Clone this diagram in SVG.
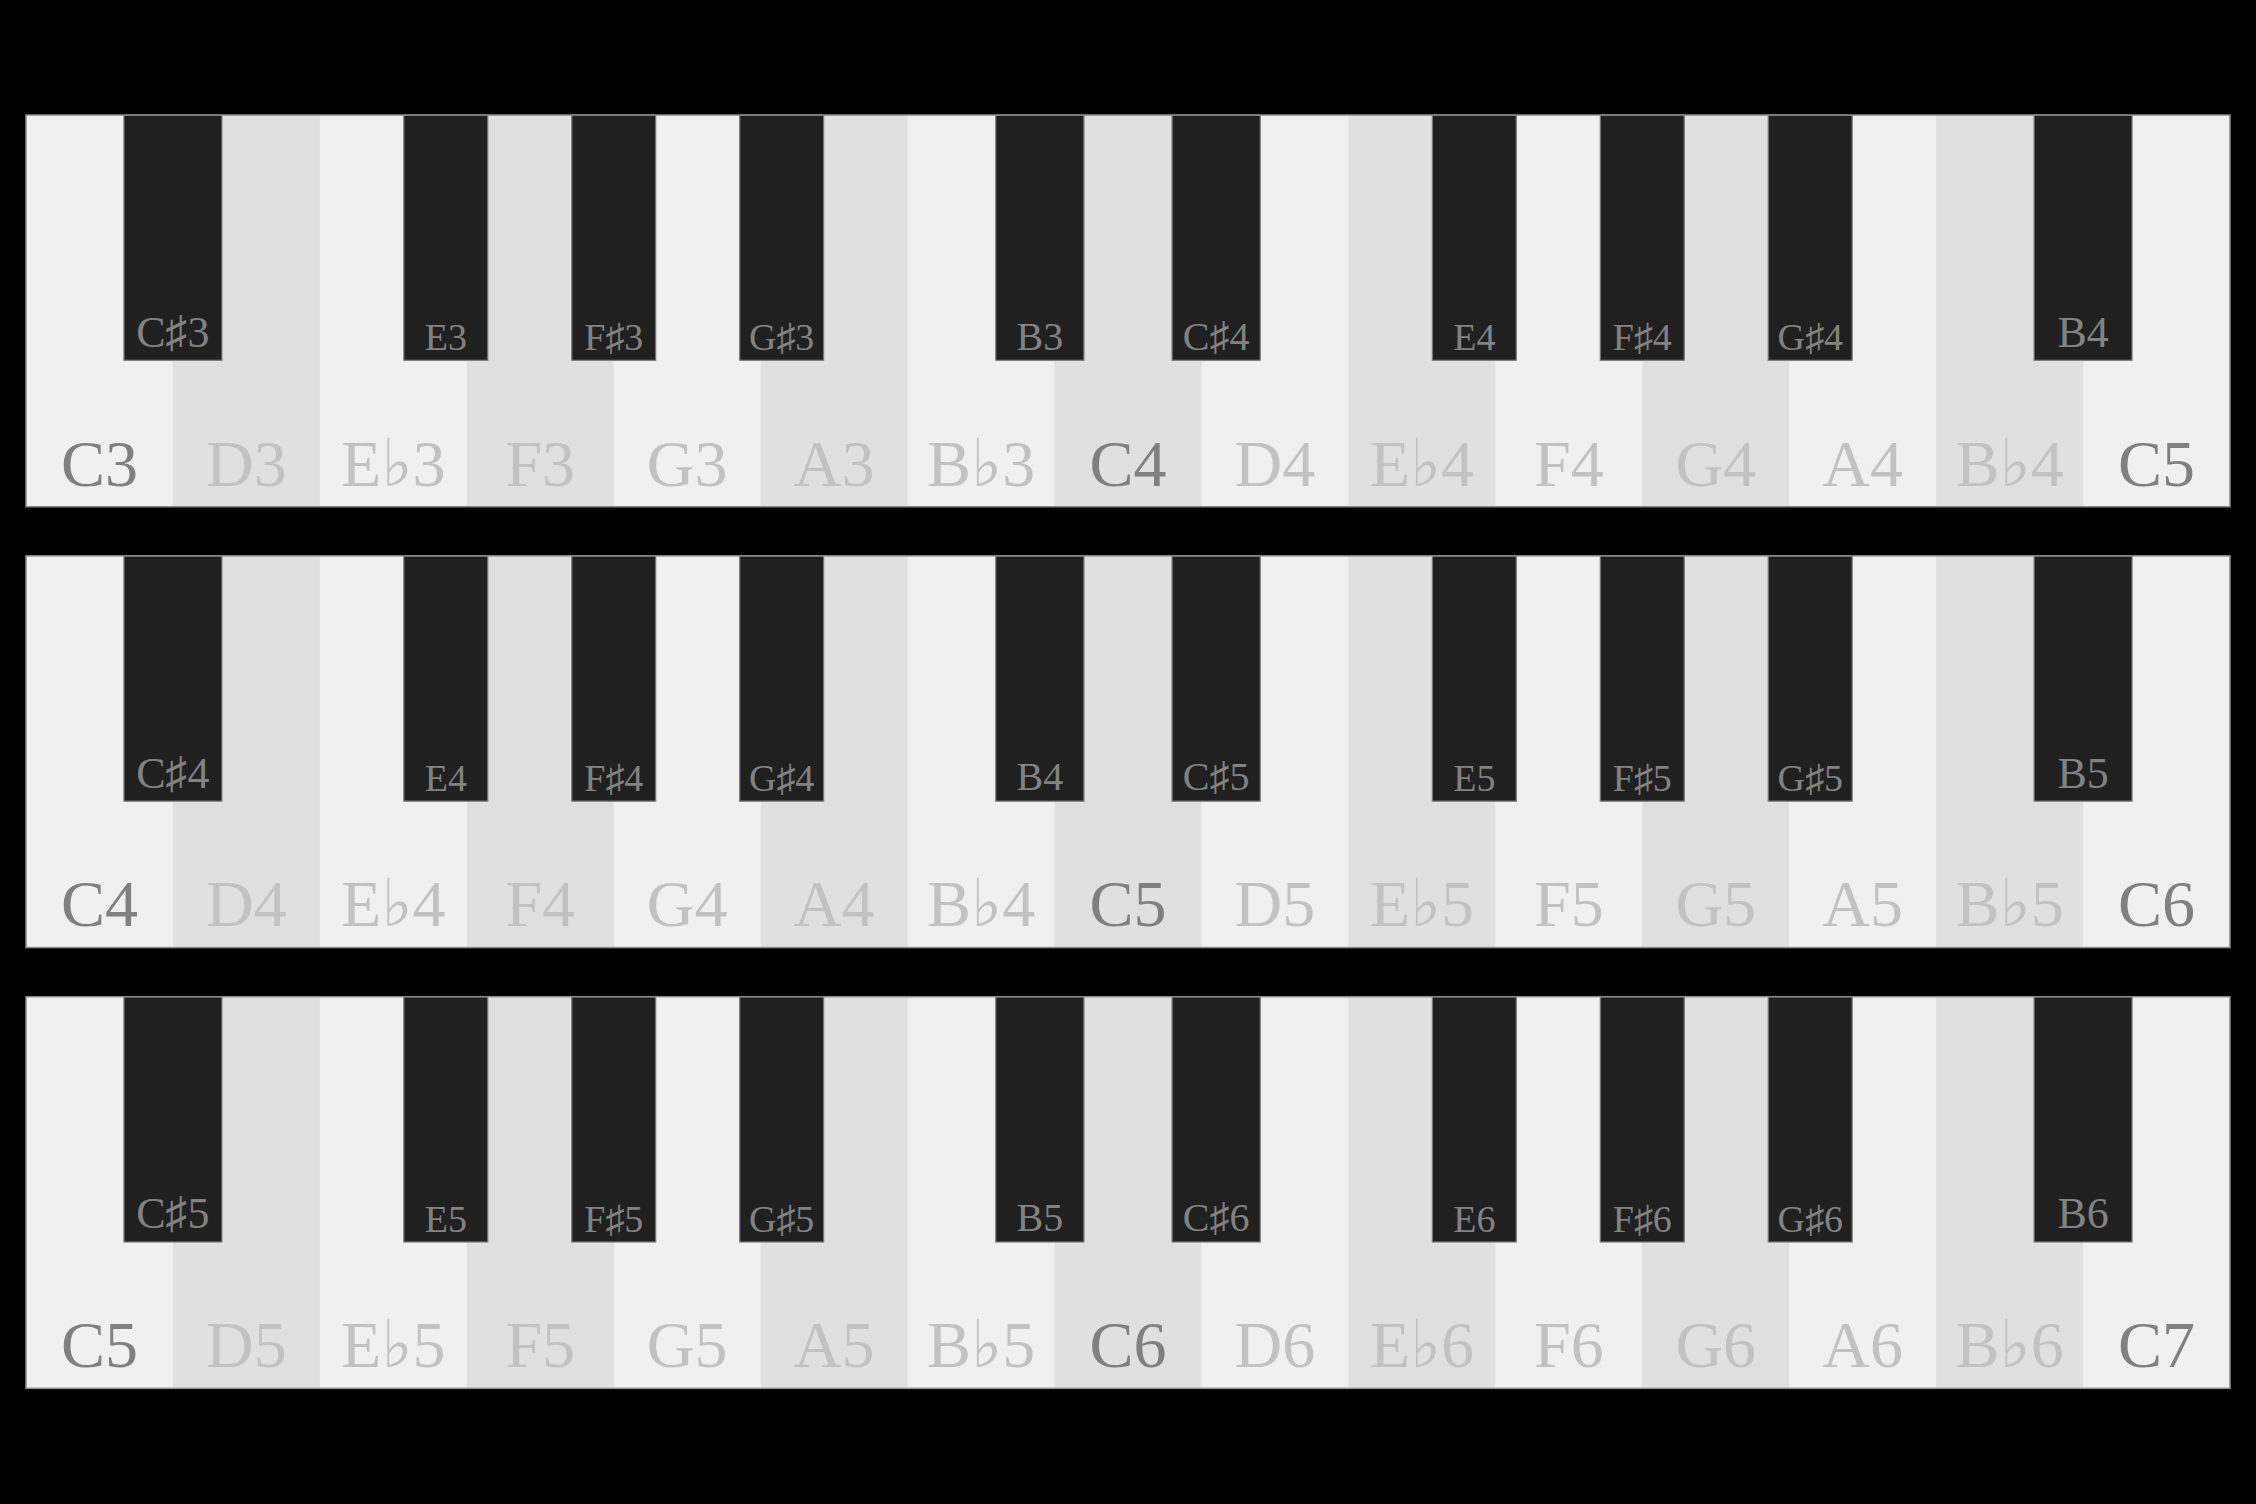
<svg xmlns="http://www.w3.org/2000/svg" xmlns:xlink="http://www.w3.org/1999/xlink" width="2256" height="1504" viewBox="0 0 2256 1504">
<style>
.lt{fill:#f0f0f0}
.dk{fill:#e0e0e0}
.bk{fill:#202020;stroke:#7a7a7a;stroke-width:1.2}
.frame{fill:none;stroke:#8a8a8a;stroke-width:1.5}
text{font-family:"Liberation Serif","DejaVu Serif",serif;text-anchor:middle}
.wl{font-size:66px;fill:#c2c2c2}
.wc{font-size:66px;fill:#808080}
.bl{fill:#828282}
.s1{font-size:38px}
.s2{font-size:40px}
.s3{font-size:44px}
</style>
<defs>
<g id="keyboard">
<rect class="lt" x="26" y="0" width="2204" height="391.7"/>
<rect class="dk" x="172.93" y="0" width="146.93" height="391.7"/>
<rect class="dk" x="466.8" y="0" width="146.93" height="391.7"/>
<rect class="dk" x="760.67" y="0" width="146.93" height="391.7"/>
<rect class="dk" x="1054.53" y="0" width="146.93" height="391.7"/>
<rect class="dk" x="1348.4" y="0" width="146.93" height="391.7"/>
<rect class="dk" x="1642.27" y="0" width="146.93" height="391.7"/>
<rect class="dk" x="1936.13" y="0" width="146.93" height="391.7"/>
<rect class="bk" x="123.96" y="0" width="97.96" height="245.3"/>
<rect class="bk" x="403.83" y="0" width="83.96" height="245.3"/>
<rect class="bk" x="571.75" y="0" width="83.96" height="245.3"/>
<rect class="bk" x="739.68" y="0" width="83.96" height="245.3"/>
<rect class="bk" x="995.76" y="0" width="88.16" height="245.3"/>
<rect class="bk" x="1172.08" y="0" width="88.16" height="245.3"/>
<rect class="bk" x="1432.36" y="0" width="83.96" height="245.3"/>
<rect class="bk" x="1600.29" y="0" width="83.96" height="245.3"/>
<rect class="bk" x="1768.21" y="0" width="83.96" height="245.3"/>
<rect class="bk" x="2034.09" y="0" width="97.96" height="245.3"/>
<rect class="frame" x="26" y="0" width="2204" height="391.7"/>
</g>
</defs>
<rect x="0" y="0" width="2256" height="1504" fill="#000"/>

<g id="keyboard-1" transform="translate(0,115)">
<use xlink:href="#keyboard" href="#keyboard"/>
<g id="labels-1-white">
<text class="wc" x="99.47" y="370.5">C3</text>
<text class="wl" x="246.4" y="370.5">D3</text>
<text class="wl" x="393.33" y="370.5">E♭3</text>
<text class="wl" x="540.27" y="370.5">F3</text>
<text class="wl" x="687.2" y="370.5">G3</text>
<text class="wl" x="834.13" y="370.5">A3</text>
<text class="wl" x="981.07" y="370.5">B♭3</text>
<text class="wc" x="1128" y="370.5">C4</text>
<text class="wl" x="1274.93" y="370.5">D4</text>
<text class="wl" x="1421.87" y="370.5">E♭4</text>
<text class="wl" x="1568.8" y="370.5">F4</text>
<text class="wl" x="1715.73" y="370.5">G4</text>
<text class="wl" x="1862.67" y="370.5">A4</text>
<text class="wl" x="2009.6" y="370.5">B♭4</text>
<text class="wc" x="2156.53" y="370.5">C5</text>
</g>
<g id="labels-1-black">
<text class="bl s3" x="172.93" y="231.7">C♯3</text>
<text class="bl s1" x="445.81" y="235">E3</text>
<text class="bl s1" x="613.73" y="235">F♯3</text>
<text class="bl s1" x="781.66" y="235">G♯3</text>
<text class="bl s2" x="1039.84" y="234.5">B3</text>
<text class="bl s2" x="1216.16" y="234.5">C♯4</text>
<text class="bl s1" x="1474.34" y="235">E4</text>
<text class="bl s1" x="1642.27" y="235">F♯4</text>
<text class="bl s1" x="1810.19" y="235">G♯4</text>
<text class="bl s3" x="2083.07" y="231.7">B4</text>
</g>
</g>

<g id="keyboard-2" transform="translate(0,555.85)">
<use xlink:href="#keyboard" href="#keyboard"/>
<g id="labels-2-white">
<text class="wc" x="99.47" y="370.5">C4</text>
<text class="wl" x="246.4" y="370.5">D4</text>
<text class="wl" x="393.33" y="370.5">E♭4</text>
<text class="wl" x="540.27" y="370.5">F4</text>
<text class="wl" x="687.2" y="370.5">G4</text>
<text class="wl" x="834.13" y="370.5">A4</text>
<text class="wl" x="981.07" y="370.5">B♭4</text>
<text class="wc" x="1128" y="370.5">C5</text>
<text class="wl" x="1274.93" y="370.5">D5</text>
<text class="wl" x="1421.87" y="370.5">E♭5</text>
<text class="wl" x="1568.8" y="370.5">F5</text>
<text class="wl" x="1715.73" y="370.5">G5</text>
<text class="wl" x="1862.67" y="370.5">A5</text>
<text class="wl" x="2009.6" y="370.5">B♭5</text>
<text class="wc" x="2156.53" y="370.5">C6</text>
</g>
<g id="labels-2-black">
<text class="bl s3" x="172.93" y="231.7">C♯4</text>
<text class="bl s1" x="445.81" y="235">E4</text>
<text class="bl s1" x="613.73" y="235">F♯4</text>
<text class="bl s1" x="781.66" y="235">G♯4</text>
<text class="bl s2" x="1039.84" y="234.5">B4</text>
<text class="bl s2" x="1216.16" y="234.5">C♯5</text>
<text class="bl s1" x="1474.34" y="235">E5</text>
<text class="bl s1" x="1642.27" y="235">F♯5</text>
<text class="bl s1" x="1810.19" y="235">G♯5</text>
<text class="bl s3" x="2083.07" y="231.7">B5</text>
</g>
</g>

<g id="keyboard-3" transform="translate(0,996.7)">
<use xlink:href="#keyboard" href="#keyboard"/>
<g id="labels-3-white">
<text class="wc" x="99.47" y="370.5">C5</text>
<text class="wl" x="246.4" y="370.5">D5</text>
<text class="wl" x="393.33" y="370.5">E♭5</text>
<text class="wl" x="540.27" y="370.5">F5</text>
<text class="wl" x="687.2" y="370.5">G5</text>
<text class="wl" x="834.13" y="370.5">A5</text>
<text class="wl" x="981.07" y="370.5">B♭5</text>
<text class="wc" x="1128" y="370.5">C6</text>
<text class="wl" x="1274.93" y="370.5">D6</text>
<text class="wl" x="1421.87" y="370.5">E♭6</text>
<text class="wl" x="1568.8" y="370.5">F6</text>
<text class="wl" x="1715.73" y="370.5">G6</text>
<text class="wl" x="1862.67" y="370.5">A6</text>
<text class="wl" x="2009.6" y="370.5">B♭6</text>
<text class="wc" x="2156.53" y="370.5">C7</text>
</g>
<g id="labels-3-black">
<text class="bl s3" x="172.93" y="231.7">C♯5</text>
<text class="bl s1" x="445.81" y="235">E5</text>
<text class="bl s1" x="613.73" y="235">F♯5</text>
<text class="bl s1" x="781.66" y="235">G♯5</text>
<text class="bl s2" x="1039.84" y="234.5">B5</text>
<text class="bl s2" x="1216.16" y="234.5">C♯6</text>
<text class="bl s1" x="1474.34" y="235">E6</text>
<text class="bl s1" x="1642.27" y="235">F♯6</text>
<text class="bl s1" x="1810.19" y="235">G♯6</text>
<text class="bl s3" x="2083.07" y="231.7">B6</text>
</g>
</g>
</svg>
